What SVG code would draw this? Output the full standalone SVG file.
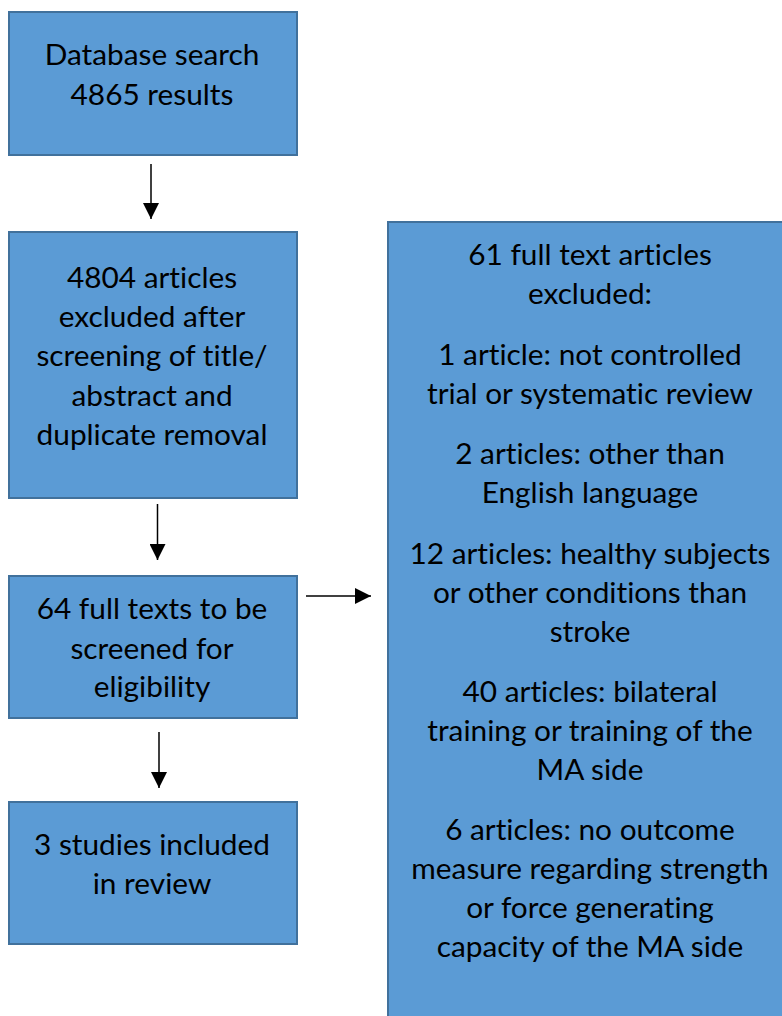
<svg xmlns="http://www.w3.org/2000/svg" width="782" height="1016" viewBox="0 0 782 1016">
<style>
.box{fill:#5B9BD5;stroke:#41719C;stroke-width:2}
.t{font-family:Lato,"Liberation Sans",sans-serif;font-size:29.8px;fill:#000;text-anchor:middle;font-variant-ligatures:none;font-feature-settings:"liga" 0}
.c{stroke:#000;stroke-width:1.5;fill:none}
</style>
<defs>
<marker id="ah" viewBox="0 0 16 16" refX="16" refY="8" markerWidth="16" markerHeight="16" markerUnits="userSpaceOnUse" orient="auto">
<path d="M0,0 L16,8 L0,16 Z" fill="#000"/>
</marker>
</defs>
<rect width="782" height="1016" fill="#fff"/>
<g id="n1">
<rect class="box" x="9" y="12" width="288" height="143"/>
<text class="t" x="152" y="65">Database search</text>
<text class="t" x="152" y="105">4865 results</text>
</g>
<g id="n2">
<rect class="box" x="9" y="232" width="288" height="266"/>
<text class="t" x="152" y="288">4804 articles</text>
<text class="t" x="152" y="327">excluded after</text>
<text class="t" x="152" y="366">screening of title/</text>
<text class="t" x="152" y="406">abstract and</text>
<text class="t" x="152" y="445">duplicate removal</text>
</g>
<g id="n3">
<rect class="box" x="9" y="576" width="288" height="142"/>
<text class="t" x="152" y="619">64 full texts to be</text>
<text class="t" x="152" y="659">screened for</text>
<text class="t" x="152" y="697">eligibility</text>
</g>
<g id="n4">
<rect class="box" x="9" y="802" width="288" height="142"/>
<text class="t" x="152" y="855">3 studies included</text>
<text class="t" x="152" y="894">in review</text>
</g>
<g id="n5">
<rect class="box" x="388" y="222" width="400" height="800"/>
<text class="t" x="590" y="265">61 full text articles</text>
<text class="t" x="590" y="304">excluded:</text>
<text class="t" x="590" y="365">1 article: not controlled</text>
<text class="t" x="590" y="404">trial or systematic review</text>
<text class="t" x="590" y="464">2 articles: other than</text>
<text class="t" x="590" y="503">English language</text>
<text class="t" x="590" y="564">12 articles: healthy subjects</text>
<text class="t" x="590" y="603">or other conditions than</text>
<text class="t" x="590" y="642">stroke</text>
<text class="t" x="590" y="702">40 articles: bilateral</text>
<text class="t" x="590" y="741">training or training of the</text>
<text class="t" x="590" y="780">MA side</text>
<text class="t" x="590" y="840">6 articles: no outcome</text>
<text class="t" x="590" y="879">measure regarding strength</text>
<text class="t" x="590" y="918">or force generating</text>
<text class="t" x="590" y="957">capacity of the MA side</text>
</g>
<g id="connectors">
<line class="c" x1="151" y1="164" x2="151" y2="219" marker-end="url(#ah)"/>
<line class="c" x1="157.5" y1="504" x2="157.5" y2="560" marker-end="url(#ah)"/>
<line class="c" x1="159" y1="732" x2="159" y2="788" marker-end="url(#ah)"/>
<line class="c" x1="306" y1="596" x2="371" y2="596" marker-end="url(#ah)"/>
</g>
</svg>
